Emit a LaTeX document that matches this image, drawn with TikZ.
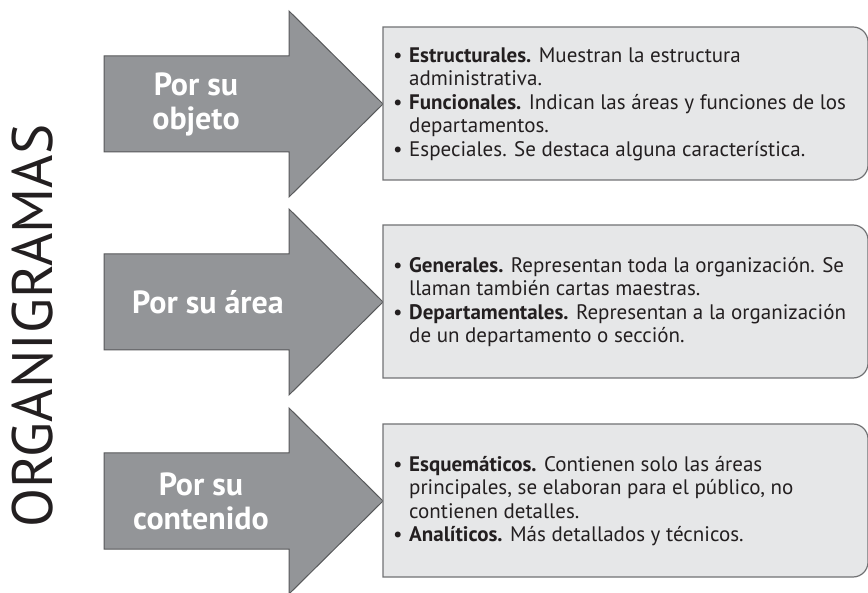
\documentclass[tikz,border=0pt]{standalone}
\usepackage{fontspec}
\setmainfont{PT Sans}
\definecolor{grisflecha}{HTML}{939598}
\definecolor{griscaja}{HTML}{E6E7E8}
\definecolor{grisborde}{HTML}{58595B}
\definecolor{negrotexto}{HTML}{231F20}
\newcommand{\vineta}{\makebox[16pt][l]{•}}
\newcommand{\sangria}{\hspace*{16pt}}
\tikzset{
	flecha/.style={fill=grisflecha, draw=grisborde, line width=1pt, line join=miter},
	caja/.style={fill=griscaja, draw=grisborde!85, line width=1.2pt},
	titulo/.style={text=white, font=\bfseries\fontsize{32}{34}\selectfont, align=center, inner sep=0pt},
	texto/.style={text=negrotexto, font=\fontsize{21}{23.5}\selectfont, align=left, anchor=west, inner sep=0pt}
}

\begin{document}
\begin{tikzpicture}[x=1pt,y=-1pt]
\useasboundingbox (0,0) rectangle (868,593);
\node[rotate=90, text=negrotexto, font=\fontsize{57}{57}\selectfont] (organigramas) at (33,326) {ORGANIGRAMAS};

% por su objeto
\begin{scope}
\draw[flecha] (104,56)--(289,56)--(289,11)--(383,104)--(289,197)--(289,152)--(104,152)--cycle;
\draw[caja] (383,180)--(383,27)--(600,27)[rounded corners=15]--(868,27)--(868,180)--(600,180)[sharp corners]--cycle;
\node[titulo] (objeto) at (196,104) {Por su\\objeto};
\node[texto] (tobjeto) at (393,104) {\vineta\textbf{Estructurales.} Muestran la estructura\\
	\sangria administrativa.\\
	\vineta\textbf{Funcionales.} Indican las áreas y funciones de los\\
	\sangria departamentos.\\
	\vineta Especiales. Se destaca alguna característica.};
\end{scope}

% por su area
\begin{scope}[yshift=-198pt]
\draw[flecha] (104,56)--(289,56)--(289,11)--(383,104)--(289,197)--(289,152)--(104,152)--cycle;
\draw[caja] (383,180)--(383,27)--(600,27)[rounded corners=15]--(868,27)--(868,180)--(600,180)[sharp corners]--cycle;
\node[titulo] (area) at (208,104) {Por su área};
\node[texto] (tarea) at (393,104) {\vineta\textbf{Generales.} Representan toda la organización. Se\\
	\sangria llaman también cartas maestras.\\
	\vineta\textbf{Departamentales.} Representan a la organización\\
	\sangria de un departamento o sección.};
\end{scope}

% por su contenido
\begin{scope}[yshift=-397pt]
\draw[flecha] (104,56)--(289,56)--(289,11)--(383,104)--(289,197)--(289,152)--(104,152)--cycle;
\draw[caja] (383,180)--(383,27)--(600,27)[rounded corners=15]--(868,27)--(868,180)--(600,180)[sharp corners]--cycle;
\node[titulo] (contenido) at (201,104) {Por su\\contenido};
\node[texto] (tcontenido) at (393,104) {\vineta\textbf{Esquemáticos.} Contienen solo las áreas\\
	\sangria principales, se elaboran para el público, no\\
	\sangria contienen detalles.\\
	\vineta\textbf{Analíticos.} Más detallados y técnicos.};
\end{scope}
\end{tikzpicture}
\end{document}
